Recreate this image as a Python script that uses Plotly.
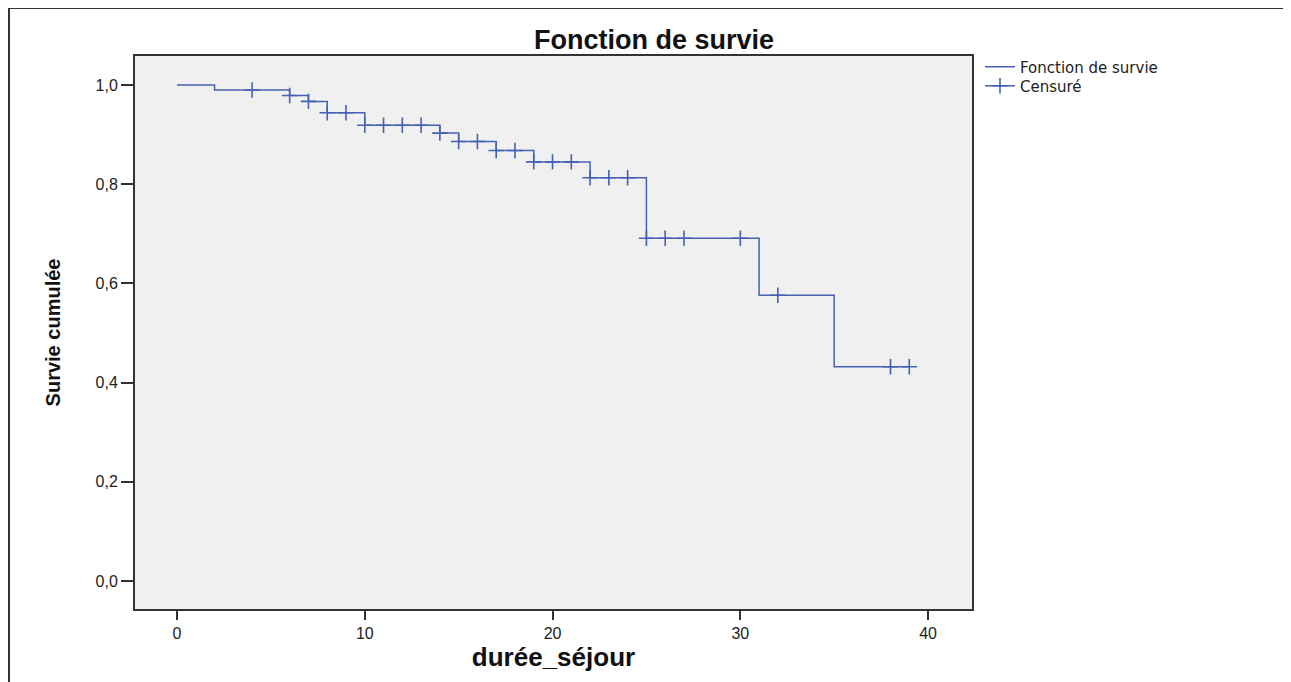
import plotly.graph_objects as go

# Kaplan-Meier step function (time, cumulative survival)
event_times = [0, 2, 6, 7, 8, 10, 14, 15, 17, 19, 22, 25, 31, 35, 39]
survival = [1.0, 0.990, 0.979, 0.967, 0.944, 0.919, 0.903, 0.886, 0.868, 0.845,
            0.813, 0.691, 0.576, 0.432, 0.432]

# Censored observations
censored_times = [4, 6, 7, 8, 9, 10, 11, 12, 13, 14, 15, 16, 17, 18, 19, 20, 21,
                  22, 23, 24, 25, 26, 27, 30, 32, 38, 39]


def surv_at(t):
    s = survival[0]
    for et, sv in zip(event_times, survival):
        if et <= t:
            s = sv
    return s


censored_surv = [surv_at(t) for t in censored_times]

x_ticks = [0, 10, 20, 30, 40]
y_ticks = [0.0, 0.2, 0.4, 0.6, 0.8, 1.0]

BLUE = "#4561b3"
DARK = "#333333"

fig = go.Figure()
fig.add_trace(go.Scatter(
    x=event_times, y=survival, mode="lines", line=dict(shape="hv", color=BLUE, width=1.5),
    name="Fonction de survie", showlegend=True, legend="legend"))
fig.add_trace(go.Scatter(
    x=censored_times, y=censored_surv, mode="markers",
    marker=dict(symbol="cross-thin", size=11, line=dict(color=BLUE, width=1.6)),
    name="Censuré", showlegend=False))
fig.add_trace(go.Scatter(
    x=[None], y=[None], mode="lines+markers", line=dict(color=BLUE, width=1.5),
    marker=dict(symbol="cross-thin", size=11, line=dict(color=BLUE, width=1.6)),
    name="Censuré", showlegend=True, legend="legend2"))

# page has an 8px body margin: work in page pixels, offset by 8
OFF = 8
FW, FH = 1291 - OFF, 682 - OFF
L, T = 135 - OFF, 56 - OFF
R = FW - (972 - OFF)
B = FH - (609 - OFF)
W, H = FW - L - R, FH - T - B


def px_x(p):
    return (p - OFF - L) / W


def px_y(p):
    return (FH - B - (p - OFF)) / H


legend_common = dict(xanchor="left", yanchor="middle", bgcolor="rgba(0,0,0,0)",
                     borderwidth=0, itemwidth=30,
                     font=dict(family="DejaVu Sans, sans-serif", size=15, color="#222222"))

fig.update_layout(
    width=FW, height=FH,
    margin=dict(l=L, r=R, t=T, b=B, autoexpand=False),
    paper_bgcolor="white", plot_bgcolor="#f0f0f0",
    separators=", ",
    font=dict(family="Liberation Sans, Arial, sans-serif", color="#222222"),
    title=dict(text="<b>Fonction de survie</b>", font=dict(size=27, color="#111111"),
               x=px_x(654), xref="paper", xanchor="center",
               y=1 - (40 - OFF) / FH, yref="container", yanchor="middle"),
    xaxis=dict(range=[-2.237, 42.34], tickvals=x_ticks, ticks="outside", ticklen=9,
               tickwidth=2, tickcolor=DARK, showline=True, linecolor=DARK, linewidth=2,
               mirror=True, showgrid=False, zeroline=False,
               tickfont=dict(size=16, color="#222222"),
               title=dict(text="<b>durée_séjour</b>", font=dict(size=26, color="#111111"),
                          standoff=6)),
    yaxis=dict(range=[-0.0565, 1.0585], tickvals=y_ticks, tickformat=".1f", ticks="outside",
               ticklen=12, tickwidth=2, tickcolor=DARK, showline=True, linecolor=DARK,
               linewidth=2, mirror=True, showgrid=False, zeroline=False,
               tickfont=dict(size=16, color="#222222"),
               title=dict(text="<b>Survie cumulée</b>", font=dict(size=20, color="#111111"),
                          standoff=30)),
    legend=dict(x=px_x(980), y=px_y(67), **legend_common),
    legend2=dict(x=px_x(980), y=px_y(86), **legend_common),
    shapes=[
        dict(type="line", xref="paper", yref="paper", x0=px_x(9), x1=px_x(1291),
             y0=px_y(8), y1=px_y(8), line=dict(color=DARK, width=2)),
        dict(type="line", xref="paper", yref="paper", x0=px_x(9), x1=px_x(9),
             y0=px_y(8), y1=px_y(682), line=dict(color=DARK, width=2)),
    ],
)

fig.write_html("out.html")
